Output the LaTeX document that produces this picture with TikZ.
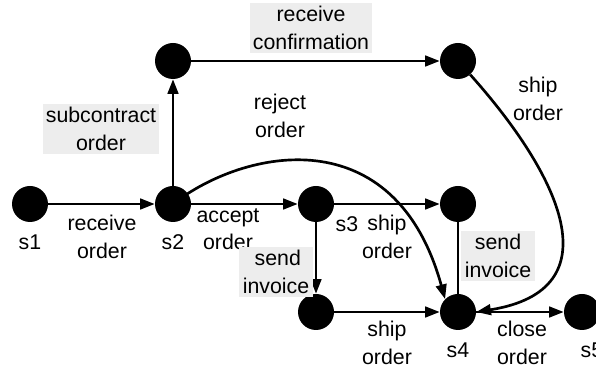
\documentclass[tikz,border=0pt]{standalone}
\usepackage{fontspec}
\setmainfont{Liberation Sans}
\usetikzlibrary{arrows.meta}
\begin{document}
\begin{tikzpicture}[x=0.75pt,y=-0.75pt,
  state/.style={circle,fill=black,minimum size=27pt,inner sep=0pt},
  lbl/.style={font=\fontsize{16}{20.5}\selectfont,align=center,inner sep=1.5pt},
  gbox/.style={lbl,fill=black!7,inner sep=2.5pt},
  flow/.style={line width=2pt,-{Triangle[length=11pt,width=8pt]}},
  plain/.style={line width=2pt}]
\useasboundingbox (0,0) rectangle (596,373);
\clip (0,0) rectangle (596,373);
% states
\node[state] (s1) at (30,204) {};
\node[state] (s2) at (173,204) {};
\node[state] (sub) at (173,61) {};
\node[state] (conf) at (458,61) {};
\node[state] (s3) at (316,204) {};
\node[state] (shipped) at (458,204) {};
\node[state] (invoiced) at (316,312) {};
\node[state] (s4) at (458,312) {};
\node[state] (s5) at (582,312) {};
% transitions
\draw[flow] (s1) -- (s2);
\draw[flow] (s2) -- (sub);
\draw[flow] (sub) -- (conf);
\draw[flow] (s2) -- (s3);
\draw[flow] (s3) -- (shipped);
\draw[flow] (s3) -- (invoiced);
\draw[flow] (invoiced) -- (s4);
\draw[plain] (shipped) -- (s4);
\draw[flow] (s4) -- (s5);
\draw[flow] (s2.center) .. controls (245,148) and (395,118) .. (s4.north west);
\draw[flow] (conf) .. controls (560,175) and (615,290) .. (s4.east);
% state names
\node[lbl] (n1) at (30,242) {s1};
\node[lbl] (n2) at (173,242) {s2};
\node[lbl] (n3) at (347,224) {s3};
\node[lbl] (n4) at (458,350) {s4};
\node[lbl] (n5) at (592,350) {s5};
% transition labels
\node[lbl] (l1) at (102,237) {receive\\order};
\node[lbl] (l2) at (228,229) {accept\\order};
\node[lbl] (l3) at (387,237) {ship\\order};
\node[lbl] (l4) at (387,343) {ship\\order};
\node[lbl] (l5) at (522,343) {close\\order};
\node[lbl] (l6) at (280,116) {reject\\order};
\node[lbl] (l7) at (538,99) {ship\\order};
\node[gbox] (g1) at (101,129) {subcontract\\order};
\node[gbox] (g2) at (311,28) {receive\\confirmation};
\node[gbox] (g3) at (276,272) {\,send\\invoice};
\node[gbox] (g4) at (498,256) {send\\invoice};
\end{tikzpicture}
\end{document}
